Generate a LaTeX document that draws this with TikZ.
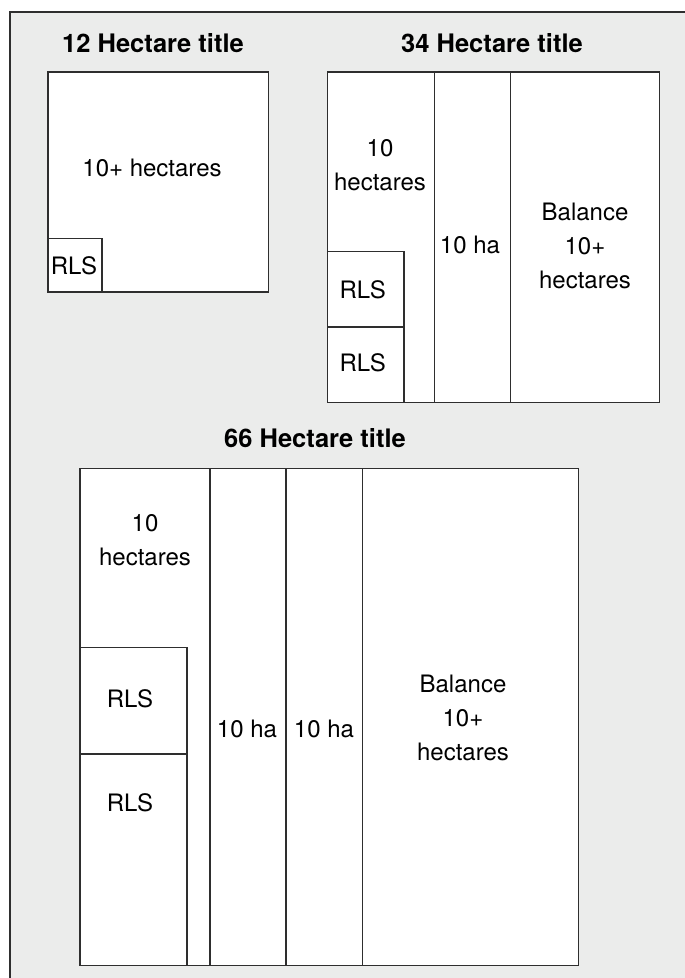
\documentclass[tikz,border=0pt]{standalone}
\usepackage{fontspec}
\setmainfont{TeX Gyre Heros}
\definecolor{bgc}{HTML}{EBECEB}
\definecolor{linec}{HTML}{2E2E2E}
\begin{document}
\begin{tikzpicture}[x=1pt,y=-1pt,
  plot/.style={draw=linec, line width=1.2pt, fill=white},
  rule/.style={draw=linec, line width=1.2pt},
  lbl/.style={font=\fontsize{24}{34}\selectfont, align=center, inner sep=0pt, text=black},
  ttl/.style={font=\bfseries\fontsize{25.5}{30}\selectfont, inner sep=0pt, text=black}]
\useasboundingbox (0,0) rectangle (685,978);
\fill[white] (0,0) rectangle (685,978);
% outer frame
\fill[bgc] (10,12) rectangle (685,978);
\draw[rule] (10,978) -- (10,12) -- (685,12);

% ---- 12 Hectare title ----
\node[ttl] (t1) at (153,43) {12 Hectare title};
\draw[plot] (48,72) rectangle (268.7,292);
\draw[plot] (48,238.3) rectangle (102,292);
\node[lbl] (l1a) at (152,168) {10+ hectares};
\node[lbl] (l1b) at (74,266) {RLS};

% ---- 34 Hectare title ----
\node[ttl] (t2) at (492,43) {34 Hectare title};
\draw[plot] (327.3,72) rectangle (659.3,402.7);
\draw[rule] (434.7,72) -- (434.7,402.7);
\draw[rule] (510.3,72) -- (510.3,402.7);
\draw[plot] (327.3,251.7) rectangle (404,327);
\draw[plot] (327.3,327) rectangle (404,402.7);
\node[lbl] (l2a) at (380,165) {10\\hectares};
\node[lbl] (l2b) at (470,245) {10 ha};
\node[lbl] (l2c) at (585,245.5) {Balance\\10+\\hectares};
\node[lbl] (l2d) at (362.7,289.5) {RLS};
\node[lbl] (l2e) at (362.7,363) {RLS};

% ---- 66 Hectare title ----
\node[ttl] (t3) at (315,438) {66 Hectare title};
\draw[plot] (80,468.3) rectangle (578.3,965.7);
\draw[rule] (210,468.3) -- (210,965.7);
\draw[rule] (286,468.3) -- (286,965.7);
\draw[rule] (362.3,468.3) -- (362.3,965.7);
\draw[plot] (80,647.7) rectangle (187,754);
\draw[plot] (80,754) rectangle (187,965.7);
\node[lbl] (l3a) at (145,540) {10\\hectares};
\node[lbl] (l3b) at (130,699) {RLS};
\node[lbl] (l3c) at (130,802.5) {RLS};
\node[lbl] (l3d) at (247,728.5) {10 ha};
\node[lbl] (l3e) at (324,728.5) {10 ha};
\node[lbl] (l3f) at (463,718) {Balance\\10+\\hectares};
\end{tikzpicture}
\end{document}
